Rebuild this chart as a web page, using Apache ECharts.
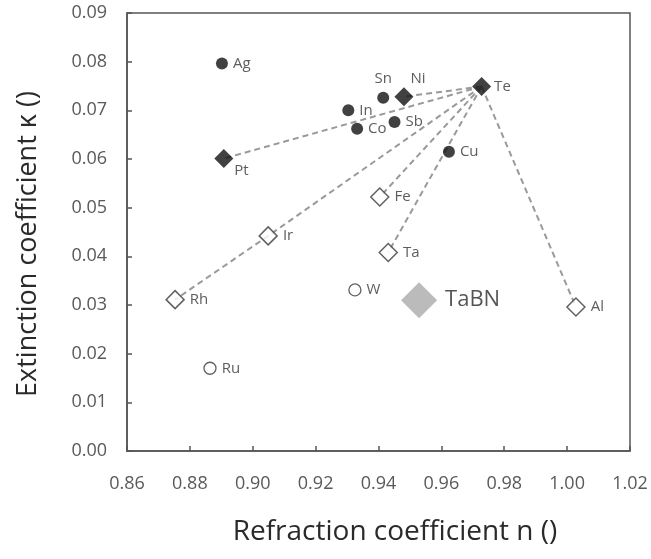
<!DOCTYPE html>
<html><head><meta charset="utf-8">
<script src="https://cdn.jsdelivr.net/npm/echarts@6/dist/echarts.min.js"></script>
<style>html,body{margin:0;padding:0;background:#fff}#c{width:651px;height:559px}</style>
</head><body><div id="c"></div>
<script>
// Data
const filledCircleNames = ['Ag', 'Sn', 'In', 'Co', 'Sb', 'Cu'];
const filledCircleN = [0.8902, 0.9415, 0.9304, 0.9332, 0.9451, 0.9624];
const filledCircleK = [0.0796, 0.0726, 0.0700, 0.0662, 0.0676, 0.0615];

const filledDiamondNames = ['Pt', 'Ni', 'Te'];
const filledDiamondN = [0.8908, 0.9481, 0.9728];
const filledDiamondK = [0.0601, 0.0728, 0.0749];

const openDiamondNames = ['Fe', 'Ir', 'Rh', 'Ta', 'Al'];
const openDiamondN = [0.9404, 0.9049, 0.8753, 0.9431, 1.0028];
const openDiamondK = [0.0522, 0.0442, 0.0311, 0.0408, 0.0296];

const openCircleNames = ['Ru', 'W'];
const openCircleN = [0.8864, 0.9325];
const openCircleK = [0.0170, 0.0331];

const tabnName = ['TaBN'];
const tabnN = [0.9529];
const tabnK = [0.0310];

// dashed connections: paths through named points
const connections = [['Te', 'Pt'], ['Te', 'Ni'], ['Te', 'Ir', 'Rh'], ['Te', 'Fe'], ['Te', 'Ta'], ['Te', 'Al']];

const xTicks = [0.86, 0.88, 0.90, 0.92, 0.94, 0.96, 0.98, 1.00, 1.02];
const yTicks = [0.00, 0.01, 0.02, 0.03, 0.04, 0.05, 0.06, 0.07, 0.08, 0.09];

const xTitle = 'Refraction coefficient n ()';
const yTitle = 'Extinction coefficient κ ()';

// lookup
const lookup = {};
function addAll(names, ns, ks) { names.forEach((nm, i) => lookup[nm] = [ns[i], ks[i]]); }
addAll(filledCircleNames, filledCircleN, filledCircleK);
addAll(filledDiamondNames, filledDiamondN, filledDiamondK);
addAll(openDiamondNames, openDiamondN, openDiamondK);
addAll(openCircleNames, openCircleN, openCircleK);
addAll(tabnName, tabnN, tabnK);

const labelColor = '#333';
const labelFont = 'Open Sans';
function labelFor(name) {
  const base = { show: true, formatter: '{b}', color: labelColor, fontFamily: labelFont, fontSize: 15, position: 'right', distance: 5 };
  if (name === 'Sn') { base.position = 'top'; base.distance = 5; }
  if (name === 'Ni') { base.position = 'top'; base.offset = [14, 0]; base.distance = 1; }
  if (name === 'Pt') { base.offset = [-4, 12]; }
  if (name === 'Te') { base.distance = 3; }
  return base;
}
function pts(names, ns, ks) {
  return names.map((nm, i) => ({ name: nm, value: [ns[i], ks[i]], label: labelFor(nm) }));
}

const series = [];
connections.forEach(path => {
  series.push({
    type: 'line', data: path.map(p => lookup[p]), symbol: 'none', silent: true, z: 1,
    lineStyle: { color: '#9a9a9a', width: 2, type: [6, 4] }, animation: false
  });
});
series.push({ type: 'scatter', z: 3, symbol: 'circle', symbolSize: 12, itemStyle: { color: '#111' }, data: pts(filledCircleNames, filledCircleN, filledCircleK) });
series.push({ type: 'scatter', z: 3, symbol: 'diamond', symbolSize: 19, itemStyle: { color: '#111' }, data: pts(filledDiamondNames, filledDiamondN, filledDiamondK) });
series.push({ type: 'scatter', z: 3, symbol: 'diamond', symbolSize: 18, itemStyle: { color: '#fff', borderColor: '#3a3a3a', borderWidth: 1.5 }, data: pts(openDiamondNames, openDiamondN, openDiamondK) });
series.push({ type: 'scatter', z: 3, symbol: 'circle', symbolSize: 12, itemStyle: { color: '#fff', borderColor: '#3a3a3a', borderWidth: 1.3 }, data: pts(openCircleNames, openCircleN, openCircleK) });
series.push({ type: 'scatter', z: 3, symbol: 'diamond', symbolSize: 36, itemStyle: { color: '#aaaaaa' },
  data: tabnName.map((nm, i) => ({ name: nm, value: [tabnN[i], tabnK[i]], label: { show: true, formatter: '{b}', position: 'right', distance: 8, color: '#2a2a2a', fontFamily: labelFont, fontSize: 22 } })) });

const axisColor = '#555';
const chart = echarts.init(document.getElementById('c'), null, { renderer: 'canvas' });
chart.setOption({
  animation: false,
  backgroundColor: '#fff',
  grid: { left: 127, right: 21, top: 13, bottom: 108, show: true, borderColor: axisColor, borderWidth: 1.5, backgroundColor: 'transparent' },
  graphic: [
    { type: 'text', x: 395, y: 532, style: { text: xTitle, font: '28px "Open Sans"', fill: '#2a2a2a', align: 'center', verticalAlign: 'middle' } },
    { type: 'text', x: 28, y: 244, rotation: Math.PI / 2, style: { text: yTitle, font: '27px "Open Sans"', fill: '#2a2a2a', align: 'center', verticalAlign: 'middle' } }
  ],
  xAxis: {
    type: 'value', min: xTicks[0], max: xTicks[xTicks.length - 1], interval: 0.02,
    axisLine: { show: true, lineStyle: { color: axisColor, width: 1.5 } },
    axisTick: { show: true, inside: true, length: 5, lineStyle: { color: axisColor, width: 1.5 } },
    splitLine: { show: false },
    axisLabel: { margin: 24, fontFamily: labelFont, fontSize: 18, color: '#595959', formatter: v => v.toFixed(2) }
  },
  yAxis: {
    type: 'value', min: yTicks[0], max: yTicks[yTicks.length - 1], interval: 0.01,
    axisLine: { show: true, lineStyle: { color: axisColor, width: 1.5 } },
    axisTick: { show: true, inside: true, length: 5, lineStyle: { color: axisColor, width: 1.5 } },
    splitLine: { show: false },
    axisLabel: { margin: 20, fontFamily: labelFont, fontSize: 18, color: '#595959', formatter: v => v.toFixed(2) }
  },
  series: series
});
</script>
</body></html>
